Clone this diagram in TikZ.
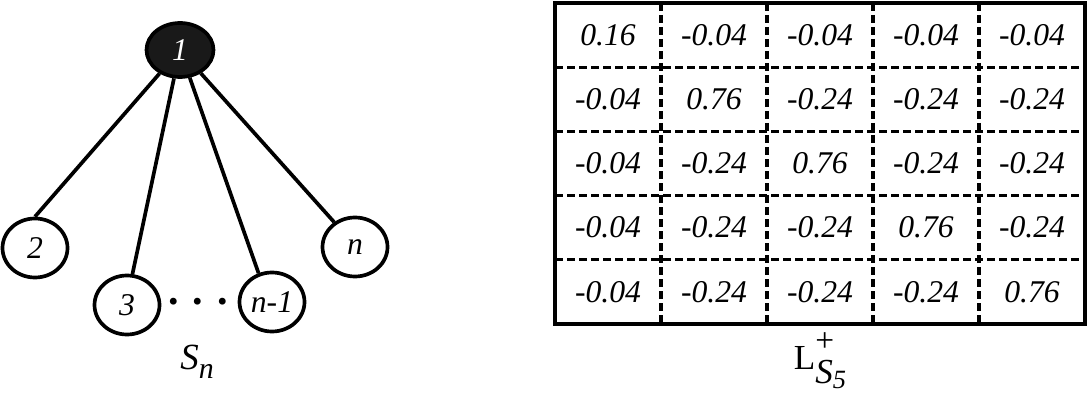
\documentclass[tikz,border=0pt]{standalone}
\usepackage{fontspec}
\setmainfont{Liberation Serif}
\usetikzlibrary{shapes.geometric}
\tikzset{
  vertex/.style={draw, ellipse, line width=2.1pt, minimum width=1.30cm, minimum height=1.18cm, inner sep=0pt},
  hub/.style={vertex, fill=black!90, text=white, minimum width=1.34cm, minimum height=1.08cm},
  edge/.style={line width=2.1pt},
  cell/.style={inner sep=0pt},
  gridline/.style={line width=1.9pt, dash pattern=on 0.16cm off 0.08cm},
  frame/.style={line width=2.8pt}
}
\begin{document}
\begin{tikzpicture}[every node/.style={font=\fontsize{18}{20}\selectfont\itshape}]
    \useasboundingbox (0,0) rectangle (21.8,7.88);
    % star graph
    \node[hub] (v1) at (3.60,6.88) {1};
    \node[vertex] (v2) at (0.70,2.92) {2};
    \node[vertex] (v3) at (2.54,1.78) {3};
    \node[vertex] (vm) at (5.44,1.84) {n-1};
    \node[vertex] (vn) at (7.10,2.94) {n};
    \node[font=\fontsize{24}{26}\selectfont\bfseries] (dots) at (3.96,1.84) {.\hspace{0.28cm}.\hspace{0.28cm}.};
    \draw[edge] (v1) -- (v2.north);
    \draw[edge] (v1) -- (v3.80);
    \draw[edge] (v1) -- (vm.115);
    \draw[edge] (v1) -- (vn.130);
    \node[font=\fontsize{21}{22}\selectfont\itshape] (sn) at (3.94,0.64)
        {S\raisebox{-0.25em}{\fontsize{17}{18}\selectfont n}};
    % pseudo-inverse of the Laplacian
    \foreach \row [count=\i] in {{0.16,-0.04,-0.04,-0.04,-0.04},
                                 {-0.04,0.76,-0.24,-0.24,-0.24},
                                 {-0.04,-0.24,0.76,-0.24,-0.24},
                                 {-0.04,-0.24,-0.24,0.76,-0.24},
                                 {-0.04,-0.24,-0.24,-0.24,0.76}}{
        \foreach \val [count=\j] in \row
            \node[cell] (m\i\j) at ({11.10+(\j-0.5)*2.12},{7.82-(\i-0.5)*1.284}) {\val};
    }
    \foreach \k in {1,...,4}{
        \draw[gridline] ({11.10+\k*2.12},7.82) -- ({11.10+\k*2.12},1.40);
        \draw[gridline] (11.10,{7.82-\k*1.284}) -- (21.70,{7.82-\k*1.284});
    }
    \draw[frame] (11.10,1.40) rectangle (21.70,7.82);
    \node[font=\fontsize{20}{21}\selectfont] (lbl) at (16.40,0.66)
        {L\rlap{\raisebox{0.5em}{\fontsize{19}{20}\selectfont+}}\raisebox{-0.4em}{\textit{S}\raisebox{-0.15em}{\fontsize{15}{16}\selectfont\itshape 5}}};
\end{tikzpicture}
\end{document}
